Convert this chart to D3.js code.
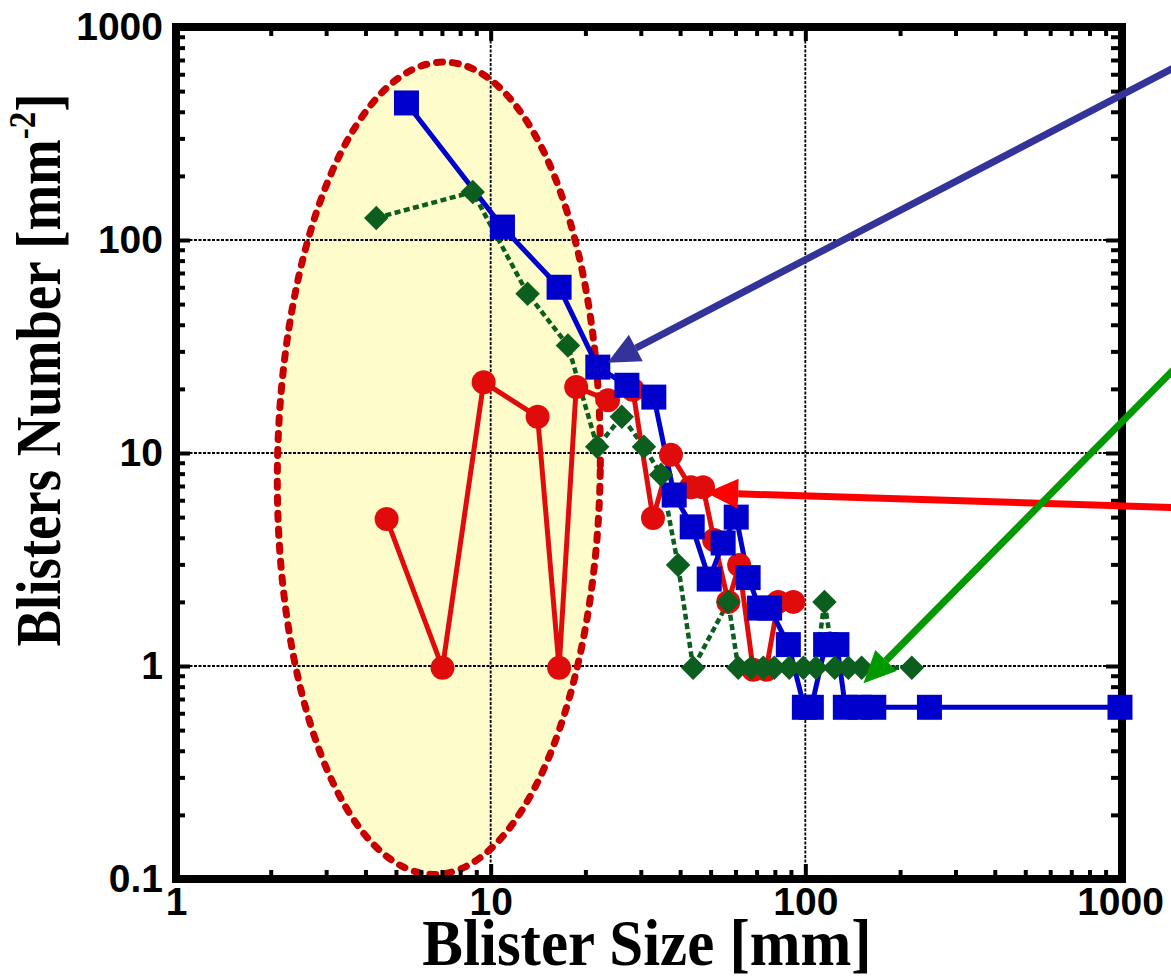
<!DOCTYPE html>
<html>
<head>
<meta charset="utf-8">
<script src="https://cdn.jsdelivr.net/npm/d3@7"></script>
<style>
  body { margin: 0; background: #fff; }
  .tick text { font-family: "Liberation Sans", Arial, sans-serif; font-weight: bold; font-size: 39px; fill: #000; }
  .tick line { stroke: #000; stroke-width: 4; }
  .domain { display: none; }
</style>
</head>
<body>
<div id="chart"></div>
<script>
// blue squares series
var blueX = [5.4, 10.9, 16.5, 21.9, 27.1, 33, 38.3, 43.7, 49.5, 54.8, 60.3, 65.8, 71.5, 77, 88.3, 99.3, 104.5, 116, 126, 134, 149, 165, 248, 1000];
var blueY = [440, 115, 60, 25.3, 20.8, 18.3, 6.35, 4.5, 2.56, 3.78, 5.0, 2.6, 1.87, 1.87, 1.26, 0.64, 0.64, 1.26, 1.26, 0.64, 0.64, 0.64, 0.64, 0.64];
// red circles series
var redX = [4.67, 7.03, 9.5, 14.1, 16.5, 18.7, 23.6, 28.3, 32.8, 37.4, 43.3, 47.3, 51.3, 56.9, 61.6, 68.3, 75.1, 82, 91.6];
var redY = [4.9, 0.98, 21.5, 14.8, 0.98, 20.4, 17.7, 19.8, 4.95, 9.8, 6.9, 6.9, 3.9, 2.0, 2.98, 0.96, 0.96, 2.0, 2.0];
// green diamonds series
var greenX = [4.33, 8.77, 13.1, 17.6, 21.8, 26.1, 30.7, 34.8, 39.4, 44, 56.9, 61.2, 67.3, 73.5, 79.7, 88.9, 98.6, 108, 115, 124, 137, 151, 218];
var greenY = [127, 168, 56, 32, 10.7, 14.8, 10.7, 7.9, 2.98, 0.98, 2.0, 0.98, 0.98, 0.98, 0.98, 0.98, 0.98, 0.98, 2.0, 0.98, 0.98, 0.98, 0.98];

var xMajor = [1, 10, 100, 1000];
var yMajor = [0.1, 1, 10, 100, 1000];
var xTickLabels = ["1", "10", "100", "1000"];
var yTickLabels = ["0.1", "1", "10", "100", "1000"];

// highlighted region (ellipse extent in data units)
var ellipseX = [2.1, 22.3];
var ellipseY = [0.105, 685];

// arrows: [tailX, tailY, tipX, tipY] in data units
var arrowBlue = [1475, 641, 23.5, 26.5];
var arrowRed = [1475, 5.55, 48.4, 6.5];
var arrowGreen = [1475, 24.5, 153, 0.83];

var svg = d3.select("#chart").append("svg")
            .attr("width", 1171)
            .attr("height", 977);

var x = d3.scaleLog().domain([1, 1000]).range([176, 1120]);
var y = d3.scaleLog().domain([0.1, 1000]).range([879, 27]);

function minors(decades) {
  var out = [];
  decades.forEach(function(d) {
    for (var k = 2; k <= 9; k++) out.push(k * d);
  });
  return out;
}
var xMinor = minors([1, 10, 100]);
var yMinor = minors([0.1, 1, 10, 100]);

// ellipse highlight
var ex0 = x(ellipseX[0]), ex1 = x(ellipseX[1]);
var ey0 = y(ellipseY[1]), ey1 = y(ellipseY[0]);
var ecx = (ex0 + ex1) / 2, ecy = (ey0 + ey1) / 2;
svg.append("ellipse")
    .attr("cx", ecx).attr("cy", ecy)
    .attr("rx", (ex1 - ex0) / 2)
    .attr("ry", (ey1 - ey0) / 2)
    .attr("transform", "rotate(0.8," + ecx + "," + ecy + ")")
    .attr("fill", "#fefccb")
    .attr("stroke", "none");

// gridlines
svg.append("g").selectAll("line").data([10, 100]).enter().append("line")
    .attr("x1", function(d) { return x(d); })
    .attr("x2", function(d) { return x(d); })
    .attr("y1", y(1000)).attr("y2", y(0.1))
    .attr("stroke", "#000").attr("stroke-width", 1.8).attr("stroke-dasharray", "3,1.5");
svg.append("g").selectAll("line").data([1, 10, 100]).enter().append("line")
    .attr("y1", function(d) { return y(d); })
    .attr("y2", function(d) { return y(d); })
    .attr("x1", x(1)).attr("x2", x(1000))
    .attr("stroke", "#000").attr("stroke-width", 1.8).attr("stroke-dasharray", "3,1.5");

// ellipse outline
svg.append("ellipse")
    .attr("cx", ecx).attr("cy", ecy)
    .attr("rx", (ex1 - ex0) / 2)
    .attr("ry", (ey1 - ey0) / 2)
    .attr("transform", "rotate(0.8," + ecx + "," + ecy + ")")
    .attr("fill", "none")
    .attr("stroke", "#c80000")
    .attr("stroke-width", 7)
    .attr("stroke-linecap", "round")
    .attr("stroke-dasharray", "6,10");

// axes: minor ticks
svg.append("g").attr("transform", "translate(0," + y(0.1) + ")")
    .call(d3.axisBottom(x).tickValues(xMinor).tickSize(-9).tickFormat(""));
svg.append("g").attr("transform", "translate(0," + y(1000) + ")")
    .call(d3.axisTop(x).tickValues(xMinor).tickSize(-9).tickFormat(""));
svg.append("g").attr("transform", "translate(" + x(1) + ",0)")
    .call(d3.axisLeft(y).tickValues(yMinor).tickSize(-9).tickFormat(""));
svg.append("g").attr("transform", "translate(" + x(1000) + ",0)")
    .call(d3.axisRight(y).tickValues(yMinor).tickSize(-9).tickFormat(""));

// axes: major ticks + labels
svg.append("g").attr("transform", "translate(0," + y(0.1) + ")")
    .call(d3.axisBottom(x).tickValues(xMajor).tickSize(-15).tickPadding(8)
      .tickFormat(function(d, i) { return xTickLabels[i]; }));
svg.append("g").attr("transform", "translate(" + x(1) + ",0)")
    .call(d3.axisLeft(y).tickValues(yMajor).tickSize(-14).tickPadding(13)
      .tickFormat(function(d, i) { return yTickLabels[i]; }));
svg.append("g").attr("transform", "translate(0," + y(1000) + ")")
    .call(d3.axisTop(x).tickValues(xMajor).tickSize(-14).tickFormat(""));
svg.append("g").attr("transform", "translate(" + x(1000) + ",0)")
    .call(d3.axisRight(y).tickValues(yMajor).tickSize(-14).tickFormat(""));

// frame
svg.append("rect")
    .attr("x", x(1)).attr("y", y(1000))
    .attr("width", x(1000) - x(1) + 2)
    .attr("height", y(0.1) - y(1000))
    .attr("fill", "none")
    .attr("stroke", "#000")
    .attr("stroke-width", 8);

function pts(xs, ys) {
  return xs.map(function(v, i) { return [x(v), y(ys[i])]; });
}
var line = d3.line();

var greenPts = pts(greenX, greenY);
var redPts = pts(redX, redY);
var bluePts = pts(blueX, blueY);

svg.append("path").attr("d", line(greenPts))
    .attr("fill", "none").attr("stroke", "#0b5e1e").attr("stroke-width", 4.5)
    .attr("stroke-dasharray", "6,3.5");
svg.append("path").attr("d", line(redPts))
    .attr("fill", "none").attr("stroke", "#e00c0c").attr("stroke-width", 5);
svg.append("path").attr("d", line(bluePts))
    .attr("fill", "none").attr("stroke", "#0000cc").attr("stroke-width", 5);

svg.append("g").selectAll("circle").data(redPts).enter().append("circle")
    .attr("cx", function(d) { return d[0]; })
    .attr("cy", function(d) { return d[1]; })
    .attr("r", 12)
    .attr("fill", "#e00c0c");

svg.append("g").selectAll("rect").data(bluePts).enter().append("rect")
    .attr("x", function(d) { return d[0] - 12.5; })
    .attr("y", function(d) { return d[1] - 12.5; })
    .attr("width", 25).attr("height", 25)
    .attr("fill", "#0000cc");

var diamond = d3.symbol().type(d3.symbolSquare).size(300);
svg.append("g").selectAll("path").data(greenPts).enter().append("path")
    .attr("d", diamond)
    .attr("transform", function(d) { return "translate(" + d[0] + "," + d[1] + ")rotate(45)"; })
    .attr("fill", "#0b5e1e");

// arrows
function arrow(a, color) {
  var x1 = x(a[0]), y1 = y(a[1]), x2 = x(a[2]), y2 = y(a[3]);
  var ang = Math.atan2(y2 - y1, x2 - x1);
  var len = 32, hw = 15;
  var bx = x2 - len * Math.cos(ang), by = y2 - len * Math.sin(ang);
  svg.append("line")
      .attr("x1", x1).attr("y1", y1).attr("x2", bx).attr("y2", by)
      .attr("stroke", color).attr("stroke-width", 7);
  var nx = -Math.sin(ang), ny = Math.cos(ang);
  svg.append("path")
      .attr("d", "M" + x2 + "," + y2 +
                 "L" + (bx + nx * hw) + "," + (by + ny * hw) +
                 "L" + (bx - nx * hw) + "," + (by - ny * hw) + "Z")
      .attr("fill", color);
}
arrow(arrowBlue, "#333399");
arrow(arrowRed, "#ff0000");
arrow(arrowGreen, "#009900");

// axis titles
svg.append("text")
    .attr("text-anchor", "middle")
    .attr("transform", "translate(647,965)scale(1,1.07)")
    .style("font-family", "'Liberation Serif', 'Times New Roman', serif")
    .style("font-weight", "bold")
    .style("font-size", "61px")
    .text("Blister Size [mm]");

var yl = svg.append("text")
    .attr("text-anchor", "middle")
    .attr("transform", "translate(60,370)rotate(-90)scale(0.87,1)")
    .style("font-family", "'Liberation Serif', 'Times New Roman', serif")
    .style("font-weight", "bold")
    .style("font-size", "63px");
yl.append("tspan").text("Blisters Number [mm");
yl.append("tspan").attr("dy", "-25").style("font-size", "38px").text("-2");
yl.append("tspan").attr("dy", "25").text("]");
</script>
</body>
</html>
